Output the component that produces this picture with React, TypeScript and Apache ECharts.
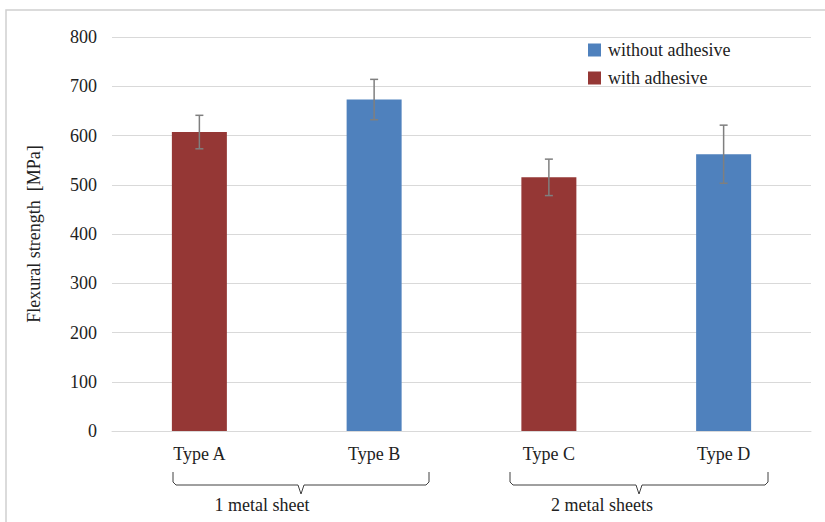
import React, { useEffect, useRef } from "react";
import * as echarts from "echarts";

const categories = ["Type A", "Type B", "Type C", "Type D"];
const withoutAdhesive = [null, 673, null, 562];
const withAdhesive = [607, null, 515, null];
const means = [607, 673, 515, 562];
const errors = [34, 41, 37, 59];
const yTicks = { min: 0, max: 800, interval: 100 };
const groupLabels = ["1 metal sheet", "2 metal sheets"];

const FONT = "Liberation Serif";

export default function App() {
  const ref = useRef<HTMLDivElement>(null);
  useEffect(() => {
    if (!ref.current) return;
    const chart = echarts.init(ref.current, undefined, { renderer: "svg" });
    const errData = means.map((m, i) => [i, m - errors[i], m + errors[i]]);
    const bracketColor = "#404040";
    const bracket = (x1: number, xm: number, x2: number) => ({
      type: "polyline",
      shape: {
        points: [
          [x1, 472],
          [x1, 482],
          [x1 + 3, 485],
          [xm - 3, 485],
          [xm, 494],
          [xm + 3, 485],
          [x2 - 3, 485],
          [x2, 482],
          [x2, 472],
        ],
      },
      style: { stroke: bracketColor, lineWidth: 1, fill: "none" },
    });
    const txt = { fontFamily: FONT, fontSize: 18, color: "#222" };
    chart.setOption({
      animation: false,
      backgroundColor: "#ffffff",
      grid: { left: 112, right: 14, top: 37, bottom: 91 },
      legend: {
        orient: "vertical",
        left: 583,
        top: 36,
        itemWidth: 13,
        itemHeight: 13,
        itemGap: 10,
        icon: "rect",
        data: ["without adhesive", "with adhesive"],
        textStyle: { ...txt, padding: [0, 0, 0, 2] },
      },
      xAxis: {
        type: "category",
        data: categories,
        axisTick: { show: false },
        axisLine: { lineStyle: { color: "#d9d9d9", width: 1 } },
        axisLabel: { ...txt, margin: 14 },
      },
      yAxis: {
        type: "value",
        min: yTicks.min,
        max: yTicks.max,
        interval: yTicks.interval,
        name: "Flexural strength  [MPa]",
        nameLocation: "middle",
        nameGap: 69,
        nameTextStyle: txt,
        axisLabel: { ...txt, margin: 15 },
        splitLine: { lineStyle: { color: "#d9d9d9", width: 1 } },
        axisLine: { show: false },
        axisTick: { show: false },
      },
      series: [
        {
          name: "without adhesive",
          type: "bar",
          data: withoutAdhesive,
          barWidth: 55,
          barGap: "-100%",
          itemStyle: { color: "#4f81bd" },
        },
        {
          name: "with adhesive",
          type: "bar",
          data: withAdhesive,
          barWidth: 55,
          barGap: "-100%",
          itemStyle: { color: "#953735" },
        },
        {
          type: "custom",
          name: "error",
          data: errData,
          z: 10,
          renderItem: (params: any, api: any) => {
            const x = api.value(0);
            const lo = api.coord([x, api.value(1)]);
            const hi = api.coord([x, api.value(2)]);
            const cap = 4;
            const style = { stroke: "#7f7f7f", lineWidth: 1.5 };
            return {
              type: "group",
              children: [
                { type: "line", shape: { x1: lo[0], y1: lo[1], x2: hi[0], y2: hi[1] }, style },
                { type: "line", shape: { x1: lo[0] - cap, y1: lo[1], x2: lo[0] + cap, y2: lo[1] }, style },
                { type: "line", shape: { x1: hi[0] - cap, y1: hi[1], x2: hi[0] + cap, y2: hi[1] }, style },
              ],
            };
          },
        },
      ],
      graphic: [
        {
          type: "polyline",
          shape: { points: [[6, 600], [6, 10], [900, 10]] },
          style: { stroke: "#d0d0d0", lineWidth: 1.5, fill: "none" },
        },
        bracket(173, 301, 429),
        bracket(510, 639, 768),
        {
          type: "text",
          x: 262,
          y: 505,
          style: { text: groupLabels[0], fontFamily: FONT, fontSize: 18, fill: "#222", textAlign: "center", textVerticalAlign: "middle" },
        },
        {
          type: "text",
          x: 602,
          y: 505,
          style: { text: groupLabels[1], fontFamily: FONT, fontSize: 18, fill: "#222", textAlign: "center", textVerticalAlign: "middle" },
        },
      ],
    });
    return () => chart.dispose();
  }, []);
  return (
    <div
      ref={ref}
      style={{ position: "fixed", left: 0, top: 0, width: 825, height: 522 }}
    />
  );
}
